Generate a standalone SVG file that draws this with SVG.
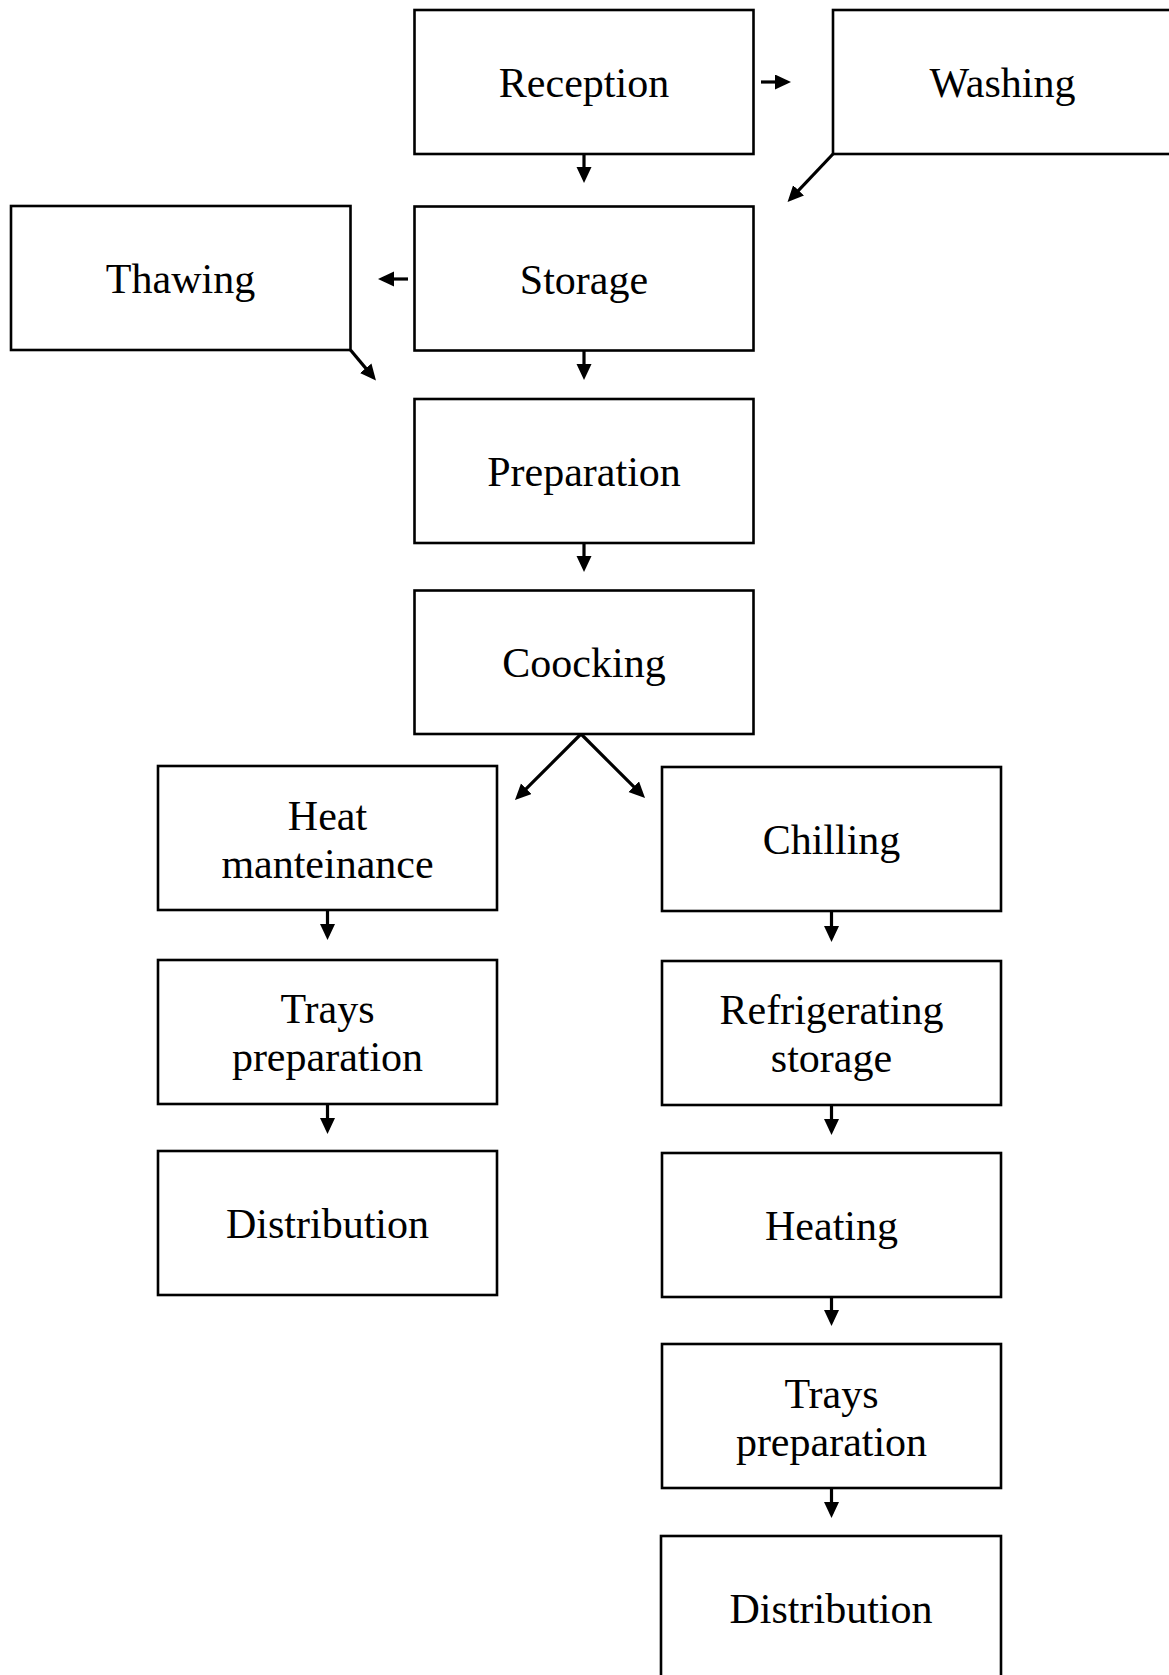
<svg xmlns="http://www.w3.org/2000/svg" width="1169" height="1675" viewBox="0 0 1169 1675">
<style>
.box{fill:#fff;stroke:#000;stroke-width:2.6}
.t{font-family:"Liberation Serif","Times New Roman",serif;font-size:42px;fill:#000;text-anchor:middle}
.c{stroke:#000;stroke-width:3.2;fill:none;marker-end:url(#ah)}
</style>
<defs>
<marker id="ah" markerUnits="userSpaceOnUse" markerWidth="16" markerHeight="16" viewBox="0 0 16 16" refX="12" refY="7.5" orient="auto">
<path d="M0,0 L16,7.5 L0,15 z" fill="#000"/>
</marker>
</defs>
<rect width="1169" height="1675" fill="#fff"/>
<g id="connectors">
<line class="c" x1="584" y1="154" x2="584" y2="179"/>
<line class="c" x1="761" y1="82" x2="787" y2="82"/>
<line class="c" x1="833" y1="154" x2="790.3" y2="199.1"/>
<line class="c" x1="408" y1="279" x2="382" y2="279"/>
<line class="c" x1="350.5" y1="350" x2="373.4" y2="377.4"/>
<line class="c" x1="584" y1="350.5" x2="584" y2="376"/>
<line class="c" x1="584" y1="543" x2="584" y2="568"/>
<line class="c" x1="581" y1="734" x2="517.8" y2="797.2"/>
<line class="c" x1="581" y1="734" x2="642.2" y2="795.2"/>
<line class="c" x1="327.5" y1="910" x2="327.5" y2="936"/>
<line class="c" x1="327.5" y1="1104" x2="327.5" y2="1130"/>
<line class="c" x1="831.5" y1="911" x2="831.5" y2="938"/>
<line class="c" x1="831.5" y1="1105" x2="831.5" y2="1131"/>
<line class="c" x1="831.5" y1="1297" x2="831.5" y2="1322"/>
<line class="c" x1="831.5" y1="1488" x2="831.5" y2="1514"/>
</g>
<g id="reception"><rect class="box" x="414.5" y="10" width="339" height="144"/><text class="t" x="584" y="97">Reception</text></g>
<g id="washing"><rect class="box" x="833" y="10" width="339" height="144"/><text class="t" x="1002.5" y="97">Washing</text></g>
<g id="thawing"><rect class="box" x="11" y="206" width="339.5" height="144"/><text class="t" x="180.5" y="293">Thawing</text></g>
<g id="storage"><rect class="box" x="414.5" y="206.5" width="339" height="144"/><text class="t" x="584" y="293.5">Storage</text></g>
<g id="preparation"><rect class="box" x="414.5" y="399" width="339" height="144"/><text class="t" x="584" y="486">Preparation</text></g>
<g id="coocking"><rect class="box" x="414.5" y="590.5" width="339" height="143.5"/><text class="t" x="584" y="677">Coocking</text></g>
<g id="heat-maintenance"><rect class="box" x="158" y="766" width="339" height="144"/><text class="t" x="327.5" y="830">Heat</text><text class="t" x="327.5" y="878">manteinance</text></g>
<g id="chilling"><rect class="box" x="662" y="767" width="339" height="144"/><text class="t" x="831.5" y="854">Chilling</text></g>
<g id="trays-left"><rect class="box" x="158" y="960" width="339" height="144"/><text class="t" x="327.5" y="1023">Trays</text><text class="t" x="327.5" y="1071">preparation</text></g>
<g id="refrigerating"><rect class="box" x="662" y="961" width="339" height="144"/><text class="t" x="831.5" y="1024">Refrigerating</text><text class="t" x="831.5" y="1072">storage</text></g>
<g id="distribution-left"><rect class="box" x="158" y="1151" width="339" height="144"/><text class="t" x="327.5" y="1238">Distribution</text></g>
<g id="heating"><rect class="box" x="662" y="1153" width="339" height="144"/><text class="t" x="831.5" y="1240">Heating</text></g>
<g id="trays-right"><rect class="box" x="662" y="1344" width="339" height="144"/><text class="t" x="831.5" y="1408">Trays</text><text class="t" x="831.5" y="1455.5">preparation</text></g>
<g id="distribution-right"><rect class="box" x="661" y="1536" width="340" height="150"/><text class="t" x="831" y="1623">Distribution</text></g>
</svg>
